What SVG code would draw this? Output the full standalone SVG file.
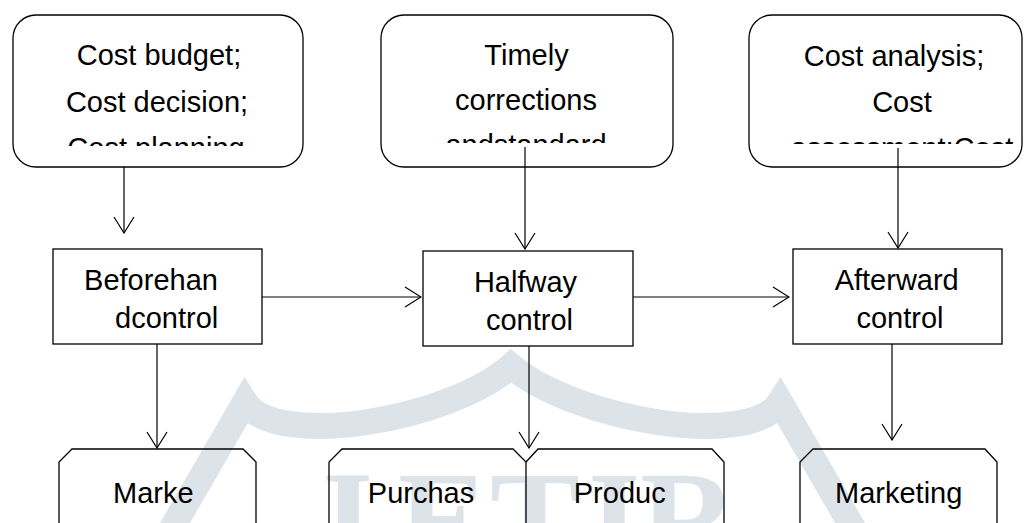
<svg xmlns="http://www.w3.org/2000/svg" width="1025" height="523" viewBox="0 0 1025 523">
<style>
.box{fill:#fff;stroke:#000;stroke-width:1.3}
.oct{fill:none;stroke:#000;stroke-width:1.3}
.lbl{font-family:"Liberation Sans",Arial,sans-serif;font-size:29px;fill:#000;text-anchor:middle}
.conn{fill:none;stroke:#000;stroke-width:1.2;marker-end:url(#arr)}
.wm{fill:none;stroke:#dde4e9;stroke-width:26;stroke-linejoin:miter;stroke-miterlimit:6}
.wmt{font-family:"Liberation Serif","Times New Roman",serif;font-weight:bold;font-size:135px;fill:#dde4e9}
</style>
<defs>
<marker id="arr" markerUnits="userSpaceOnUse" markerWidth="18" markerHeight="22" viewBox="0 0 18 22" refX="17" refY="11" orient="auto">
<path d="M1,1 L17,11 L1,21" fill="none" stroke="#000" stroke-width="1.2"/>
</marker>
<clipPath id="clipA"><rect x="13" y="15" width="290" height="131"/></clipPath>
<clipPath id="clipB"><rect x="381" y="15" width="292" height="128"/></clipPath>
<clipPath id="clipC"><rect x="749" y="15" width="273" height="129"/></clipPath>
</defs>
<g id="watermark">
<path class="wm" d="M168,535 L245,402 C275,450 450,420 511,366 C575,420 750,450 780,402 L857,535"/>
<text class="wmt" x="305 398 490 588 640" y="565">JETIR</text>
</g>
<g id="node-cost-budget">
<rect class="box" x="13" y="15" width="290" height="152" rx="23"/>
<g clip-path="url(#clipA)">
<text class="lbl" x="159" y="65">Cost budget;</text>
<text class="lbl" x="157" y="112">Cost decision;</text>
<text class="lbl" x="156" y="158">Cost planning</text>
</g>
</g>
<g id="node-timely">
<rect class="box" x="381" y="15" width="292" height="152" rx="23"/>
<g clip-path="url(#clipB)">
<text class="lbl" x="526.5" y="65">Timely</text>
<text class="lbl" x="526" y="110">corrections</text>
<text class="lbl" x="526" y="155">andstandard</text>
</g>
</g>
<g id="node-cost-analysis">
<rect class="box" x="749" y="15" width="273" height="152" rx="23"/>
<g clip-path="url(#clipC)">
<text class="lbl" x="894" y="66">Cost analysis;</text>
<text class="lbl" x="902" y="112">Cost</text>
<text class="lbl" x="902" y="158">assessment;Cost</text>
</g>
</g>
<g id="node-beforehand">
<rect class="box" x="53" y="249" width="209" height="95"/>
<text class="lbl" x="151" y="290">Beforehan</text>
<text class="lbl" x="166.7" y="328">dcontrol</text>
</g>
<g id="node-halfway">
<rect class="box" x="423" y="251" width="210" height="95"/>
<text class="lbl" x="525.5" y="292">Halfway</text>
<text class="lbl" x="529.5" y="330">control</text>
</g>
<g id="node-afterward">
<rect class="box" x="793" y="249" width="209" height="95"/>
<text class="lbl" x="896.7" y="290">Afterward</text>
<text class="lbl" x="900" y="328">control</text>
</g>
<g id="node-marke">
<path class="oct" d="M59,530 V462 L72,449 H243 L256,462 V530"/>
<text class="lbl" x="153.3" y="503">Marke</text>
</g>
<g id="node-purchas">
<path class="oct" d="M329,530 V462 L342,449 H513 L526,462 V530"/>
<text class="lbl" x="421" y="503">Purchas</text>
</g>
<g id="node-produc">
<path class="oct" d="M526,462 L538,449 H712 L724,462 V530"/>
<text class="lbl" x="619.7" y="503">Produc</text>
</g>
<g id="node-marketing">
<path class="oct" d="M800,530 V462 L813,449 H985 L997,462 V530"/>
<text class="lbl" x="898.7" y="503">Marketing</text>
</g>
<g id="connectors">
<path class="conn" d="M124,167 V233"/>
<path class="conn" d="M525,147 V249"/>
<path class="conn" d="M898,148 V248"/>
<path class="conn" d="M262,297 H421"/>
<path class="conn" d="M633,297 H789"/>
<path class="conn" d="M157,344 V448"/>
<path class="conn" d="M529,346 V448"/>
<path class="conn" d="M892,344 V440"/>
</g>
</svg>
